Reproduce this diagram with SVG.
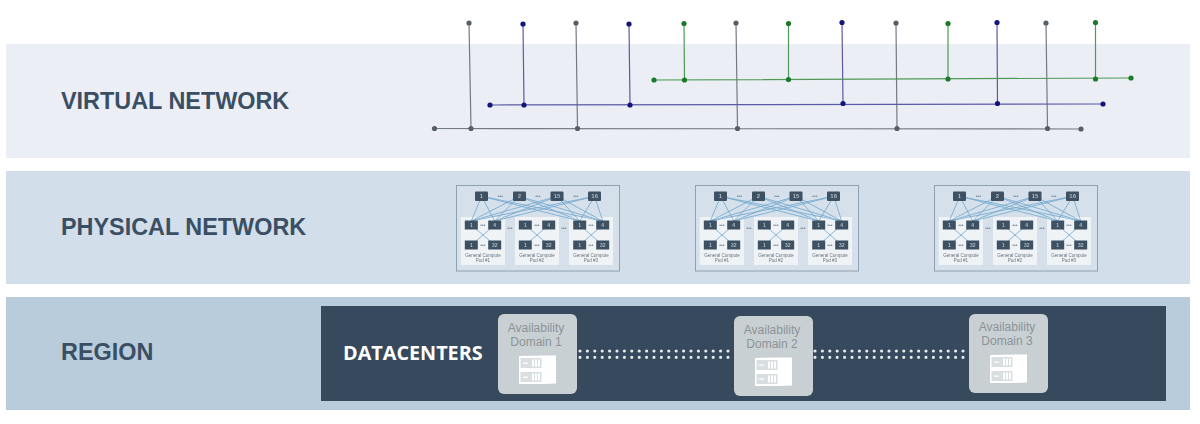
<svg xmlns="http://www.w3.org/2000/svg" width="1200" height="424" viewBox="0 0 1200 424">
<style>
.lbl{font:bold 23.400px "Liberation Sans",Arial,sans-serif;fill:#3a4f63}
.dc{font:bold 19.800px "Open Sans","Liberation Sans",sans-serif;fill:#fff}
.ad{font:12px "Liberation Sans",sans-serif;fill:#8b9398;text-anchor:middle}
.gl{stroke:#737a83;stroke-width:1.200;fill:none}
.gd{fill:#565e68}
.bl{stroke:#5a5aa6;stroke-width:1.200;fill:none}
.bd{fill:#14147e}
.grl{stroke:#4f9a55;stroke-width:1.200;fill:none}
.grd{fill:#1a7a28}
.frame{fill:#d5e0ea;stroke:#8fa0ae;stroke-width:1}
.pod{fill:#eff3f6}
.sw{fill:#3e5163}
.st{font:bold 6px "Liberation Sans",sans-serif;fill:#aebbc6;text-anchor:middle}
.ss{font:bold 5px "Liberation Sans",sans-serif;fill:#aebbc6;text-anchor:middle}
.el{font:bold 5px "Liberation Sans",sans-serif;fill:#7a8a98;text-anchor:middle}
.pt{font:4.500px "Liberation Sans",sans-serif;fill:#66727d;text-anchor:middle}
.fab{stroke:#6fa6cf;stroke-width:.8;fill:none}
.in{stroke:#6fa6cf;stroke-width:.8;fill:none}
.dots{stroke:#e4e9ed;stroke-width:3.200;stroke-linecap:round;stroke-dasharray:0 7.400;fill:none}
.adb{fill:#c9d0d3}
.soft{filter:blur(.4px)}
</style>
<defs>
<g id="wires">
<path class="fab" d="M25.700 11.300L15.300 36M25.700 11.300L38.700 36M25.700 11.300L123.700 36M25.700 11.300L146.700 36M63.300 11.300L15.300 36M63.300 11.300L38.700 36M63.300 11.300L123.700 36M63.300 11.300L146.700 36M101 11.300L15.300 36M101 11.300L38.700 36M101 11.300L123.700 36M101 11.300L146.700 36M138.700 11.300L15.300 36M138.700 11.300L38.700 36M138.700 11.300L123.700 36M138.700 11.300L146.700 36"/>
<path class="in" d="M15.300 40L38.700 60M38.700 40L15.300 60M69.300 40L92.700 60M92.700 40L69.300 60M123.700 40L146.700 60M146.700 40L123.700 60"/>
</g>
<g id="server">
<path fill="#fff" d="M0 .5L24 0H37V28L24 28.500H0Z"/>
<path fill="#d9dee1" d="M1.500 2.500H22.500V12.500H1.500ZM1.500 16.500H22.500V26.500H1.500Z"/>
<path fill="#fff" d="M4 7h5v1.300h-5zM4 21h5v1.300h-5zM13 4h2v7h-2zM16 4h2v7h-2zM19 4h2v7h-2zM13 18h2v7h-2zM16 18h2v7h-2zM19 18h2v7h-2z"/>
</g>
</defs>

<g id="band-virtual"><rect x="6" y="44" width="1184" height="114" fill="#eceef6"/><text class="lbl" x="61" y="108.500">VIRTUAL NETWORK</text></g>
<g id="band-physical"><rect x="6" y="171" width="1184" height="113" fill="#d2deea"/><text class="lbl" x="61" y="234.500">PHYSICAL NETWORK</text></g>
<g id="band-region"><rect x="6" y="297" width="1184" height="113" fill="#b9ccdc"/><text class="lbl" x="61" y="359.500">REGION</text></g>

<g id="connectors">
<path class="gl" d="M434.500 128.500L1081 129M469 23L471 128.500M576 23L577.500 128.500M736 23L737.500 128.500M896 23L897 128.500M1046 23L1047.500 128.500"/>
<path class="bl" d="M490 105L1103 104M523 24L524 105M629 24L630 105M842 22.500L843 103.500M997 22.500L997.500 103.500"/>
<path class="grl" d="M654 80L1131 78M684 23.500L684.500 80M788.500 23.500V79.500M948 23.500V79M1095.500 22.500V79"/>
</g>
<g id="junctions-gray" class="gd">
<circle cx="434.500" cy="128.500" r="2.600"/><circle cx="471" cy="128.500" r="2.600"/><circle cx="577.500" cy="128.500" r="2.600"/><circle cx="737.500" cy="128.500" r="2.600"/><circle cx="897" cy="128.500" r="2.600"/><circle cx="1047.500" cy="128.500" r="2.600"/><circle cx="1081" cy="129" r="2.600"/>
<circle cx="469" cy="23" r="2.600"/><circle cx="576" cy="23" r="2.600"/><circle cx="736" cy="23" r="2.600"/><circle cx="896" cy="23" r="2.600"/><circle cx="1046" cy="23" r="2.600"/>
</g>
<g id="junctions-blue" class="bd">
<circle cx="490" cy="105" r="2.600"/><circle cx="524" cy="105" r="2.600"/><circle cx="630" cy="105" r="2.600"/><circle cx="843" cy="103.500" r="2.600"/><circle cx="1103" cy="104" r="2.600"/><circle cx="997.500" cy="103.500" r="2.600"/>
<circle cx="523" cy="24" r="2.600"/><circle cx="629" cy="24" r="2.600"/><circle cx="842" cy="22.500" r="2.600"/><circle cx="997" cy="22.500" r="2.600"/>
</g>
<g id="junctions-green" class="grd">
<circle cx="654" cy="80" r="2.600"/><circle cx="684.500" cy="80" r="2.600"/><circle cx="788.500" cy="79.500" r="2.600"/><circle cx="948" cy="79" r="2.600"/><circle cx="1095.500" cy="79" r="2.600"/><circle cx="1131" cy="78" r="2.600"/>
<circle cx="684" cy="23.500" r="2.600"/><circle cx="788.500" cy="23.500" r="2.600"/><circle cx="948" cy="23.500" r="2.600"/><circle cx="1095.500" cy="22.500" r="2.600"/>
</g>

<g id="fabric-1" class="soft" transform="translate(456,185)">
<rect class="frame" x=".5" y=".5" width="163" height="85.500"/>
<rect class="pod" x="4.700" y="32" width="44.300" height="48"/><rect class="pod" x="59" y="32" width="44" height="48"/><rect class="pod" x="113" y="32" width="44" height="48"/>
<use href="#wires"/>
<rect class="sw" x="19" y="6.500" width="13" height="9.500" rx="1"/><rect class="sw" x="57" y="6.500" width="13" height="9.500" rx="1"/><rect class="sw" x="94.500" y="6.500" width="13" height="9.500" rx="1"/><rect class="sw" x="132" y="6.500" width="13" height="9.500" rx="1"/>
<text class="st" x="25.500" y="13.400">1</text><text class="st" x="63.300" y="13.400">2</text><text class="st" x="101" y="13.400">15</text><text class="st" x="138.700" y="13.400">16</text>
<text class="el" x="44.500" y="13">•••</text><text class="el" x="82" y="13">•••</text><text class="el" x="120" y="13">•••</text>
<path class="sw" d="M8.800 35.500h13v9h-13zM32.200 35.500h13v9h-13zM8.800 55.500h13v9h-13zM32.200 55.500h13v9h-13zM62.800 35.500h13v9h-13zM86.200 35.500h13v9h-13zM62.800 55.500h13v9h-13zM86.200 55.500h13v9h-13zM117.200 35.500h13v9h-13zM140.200 35.500h13v9h-13zM117.200 55.500h13v9h-13zM140.200 55.500h13v9h-13z"/>
<text class="ss" x="15.300" y="41.800">1</text><text class="ss" x="38.700" y="41.800">4</text><text class="ss" x="15.300" y="61.800">1</text><text class="ss" x="38.700" y="61.800">32</text>
<text class="ss" x="69.300" y="41.800">1</text><text class="ss" x="92.700" y="41.800">4</text><text class="ss" x="69.300" y="61.800">1</text><text class="ss" x="92.700" y="61.800">32</text>
<text class="ss" x="123.700" y="41.800">1</text><text class="ss" x="146.700" y="41.800">4</text><text class="ss" x="123.700" y="61.800">1</text><text class="ss" x="146.700" y="61.800">32</text>
<text class="el" x="27" y="41.500">•••</text><text class="el" x="27" y="61.500">•••</text><text class="el" x="81" y="41.500">•••</text><text class="el" x="81" y="61.500">•••</text><text class="el" x="135" y="41.500">•••</text><text class="el" x="135" y="61.500">•••</text>
<text class="el" x="54" y="45">•••</text><text class="el" x="108" y="45">•••</text>
<text class="pt" x="27" y="72">General Compute</text><text class="pt" x="27" y="77">Pod #1</text>
<text class="pt" x="81" y="72">General Compute</text><text class="pt" x="81" y="77">Pod #2</text>
<text class="pt" x="135" y="72">General Compute</text><text class="pt" x="135" y="77">Pod #3</text>
</g>

<g id="fabric-2" class="soft" transform="translate(695,185)">
<rect class="frame" x=".5" y=".5" width="163" height="85.500"/>
<rect class="pod" x="4.700" y="32" width="44.300" height="48"/><rect class="pod" x="59" y="32" width="44" height="48"/><rect class="pod" x="113" y="32" width="44" height="48"/>
<use href="#wires"/>
<rect class="sw" x="19" y="6.500" width="13" height="9.500" rx="1"/><rect class="sw" x="57" y="6.500" width="13" height="9.500" rx="1"/><rect class="sw" x="94.500" y="6.500" width="13" height="9.500" rx="1"/><rect class="sw" x="132" y="6.500" width="13" height="9.500" rx="1"/>
<text class="st" x="25.500" y="13.400">1</text><text class="st" x="63.300" y="13.400">2</text><text class="st" x="101" y="13.400">15</text><text class="st" x="138.700" y="13.400">16</text>
<text class="el" x="44.500" y="13">•••</text><text class="el" x="82" y="13">•••</text><text class="el" x="120" y="13">•••</text>
<path class="sw" d="M8.800 35.500h13v9h-13zM32.200 35.500h13v9h-13zM8.800 55.500h13v9h-13zM32.200 55.500h13v9h-13zM62.800 35.500h13v9h-13zM86.200 35.500h13v9h-13zM62.800 55.500h13v9h-13zM86.200 55.500h13v9h-13zM117.200 35.500h13v9h-13zM140.200 35.500h13v9h-13zM117.200 55.500h13v9h-13zM140.200 55.500h13v9h-13z"/>
<text class="ss" x="15.300" y="41.800">1</text><text class="ss" x="38.700" y="41.800">4</text><text class="ss" x="15.300" y="61.800">1</text><text class="ss" x="38.700" y="61.800">32</text>
<text class="ss" x="69.300" y="41.800">1</text><text class="ss" x="92.700" y="41.800">4</text><text class="ss" x="69.300" y="61.800">1</text><text class="ss" x="92.700" y="61.800">32</text>
<text class="ss" x="123.700" y="41.800">1</text><text class="ss" x="146.700" y="41.800">4</text><text class="ss" x="123.700" y="61.800">1</text><text class="ss" x="146.700" y="61.800">32</text>
<text class="el" x="27" y="41.500">•••</text><text class="el" x="27" y="61.500">•••</text><text class="el" x="81" y="41.500">•••</text><text class="el" x="81" y="61.500">•••</text><text class="el" x="135" y="41.500">•••</text><text class="el" x="135" y="61.500">•••</text>
<text class="el" x="54" y="45">•••</text><text class="el" x="108" y="45">•••</text>
<text class="pt" x="27" y="72">General Compute</text><text class="pt" x="27" y="77">Pod #1</text>
<text class="pt" x="81" y="72">General Compute</text><text class="pt" x="81" y="77">Pod #2</text>
<text class="pt" x="135" y="72">General Compute</text><text class="pt" x="135" y="77">Pod #3</text>
</g>

<g id="fabric-3" class="soft" transform="translate(934,185)">
<rect class="frame" x=".5" y=".5" width="163" height="85.500"/>
<rect class="pod" x="4.700" y="32" width="44.300" height="48"/><rect class="pod" x="59" y="32" width="44" height="48"/><rect class="pod" x="113" y="32" width="44" height="48"/>
<use href="#wires"/>
<rect class="sw" x="19" y="6.500" width="13" height="9.500" rx="1"/><rect class="sw" x="57" y="6.500" width="13" height="9.500" rx="1"/><rect class="sw" x="94.500" y="6.500" width="13" height="9.500" rx="1"/><rect class="sw" x="132" y="6.500" width="13" height="9.500" rx="1"/>
<text class="st" x="25.500" y="13.400">1</text><text class="st" x="63.300" y="13.400">2</text><text class="st" x="101" y="13.400">15</text><text class="st" x="138.700" y="13.400">16</text>
<text class="el" x="44.500" y="13">•••</text><text class="el" x="82" y="13">•••</text><text class="el" x="120" y="13">•••</text>
<path class="sw" d="M8.800 35.500h13v9h-13zM32.200 35.500h13v9h-13zM8.800 55.500h13v9h-13zM32.200 55.500h13v9h-13zM62.800 35.500h13v9h-13zM86.200 35.500h13v9h-13zM62.800 55.500h13v9h-13zM86.200 55.500h13v9h-13zM117.200 35.500h13v9h-13zM140.200 35.500h13v9h-13zM117.200 55.500h13v9h-13zM140.200 55.500h13v9h-13z"/>
<text class="ss" x="15.300" y="41.800">1</text><text class="ss" x="38.700" y="41.800">4</text><text class="ss" x="15.300" y="61.800">1</text><text class="ss" x="38.700" y="61.800">32</text>
<text class="ss" x="69.300" y="41.800">1</text><text class="ss" x="92.700" y="41.800">4</text><text class="ss" x="69.300" y="61.800">1</text><text class="ss" x="92.700" y="61.800">32</text>
<text class="ss" x="123.700" y="41.800">1</text><text class="ss" x="146.700" y="41.800">4</text><text class="ss" x="123.700" y="61.800">1</text><text class="ss" x="146.700" y="61.800">32</text>
<text class="el" x="27" y="41.500">•••</text><text class="el" x="27" y="61.500">•••</text><text class="el" x="81" y="41.500">•••</text><text class="el" x="81" y="61.500">•••</text><text class="el" x="135" y="41.500">•••</text><text class="el" x="135" y="61.500">•••</text>
<text class="el" x="54" y="45">•••</text><text class="el" x="108" y="45">•••</text>
<text class="pt" x="27" y="72">General Compute</text><text class="pt" x="27" y="77">Pod #1</text>
<text class="pt" x="81" y="72">General Compute</text><text class="pt" x="81" y="77">Pod #2</text>
<text class="pt" x="135" y="72">General Compute</text><text class="pt" x="135" y="77">Pod #3</text>
</g>

<g id="datacenters"><rect x="321" y="306" width="845" height="95" fill="#37495c"/><text class="dc" x="343" y="360">DATACENTERS</text></g>
<g id="links"><path class="dots" d="M580 351H729M580 357.300H729M815 351H964M815 357.300H964"/></g>
<g id="ad-1"><rect class="adb" x="498" y="314" width="79" height="80" rx="6"/><text class="ad" x="536" y="332">Availability</text><text class="ad" x="536" y="346">Domain 1</text><use href="#server" x="519" y="355.500"/></g>
<g id="ad-2"><rect class="adb" x="734" y="316" width="79" height="80" rx="6"/><text class="ad" x="772" y="334">Availability</text><text class="ad" x="772" y="348">Domain 2</text><use href="#server" x="755" y="357.500"/></g>
<g id="ad-3"><rect class="adb" x="969" y="314" width="79" height="79" rx="6"/><text class="ad" x="1007" y="331">Availability</text><text class="ad" x="1007" y="345">Domain 3</text><use href="#server" x="990" y="354.500"/></g>
</svg>
